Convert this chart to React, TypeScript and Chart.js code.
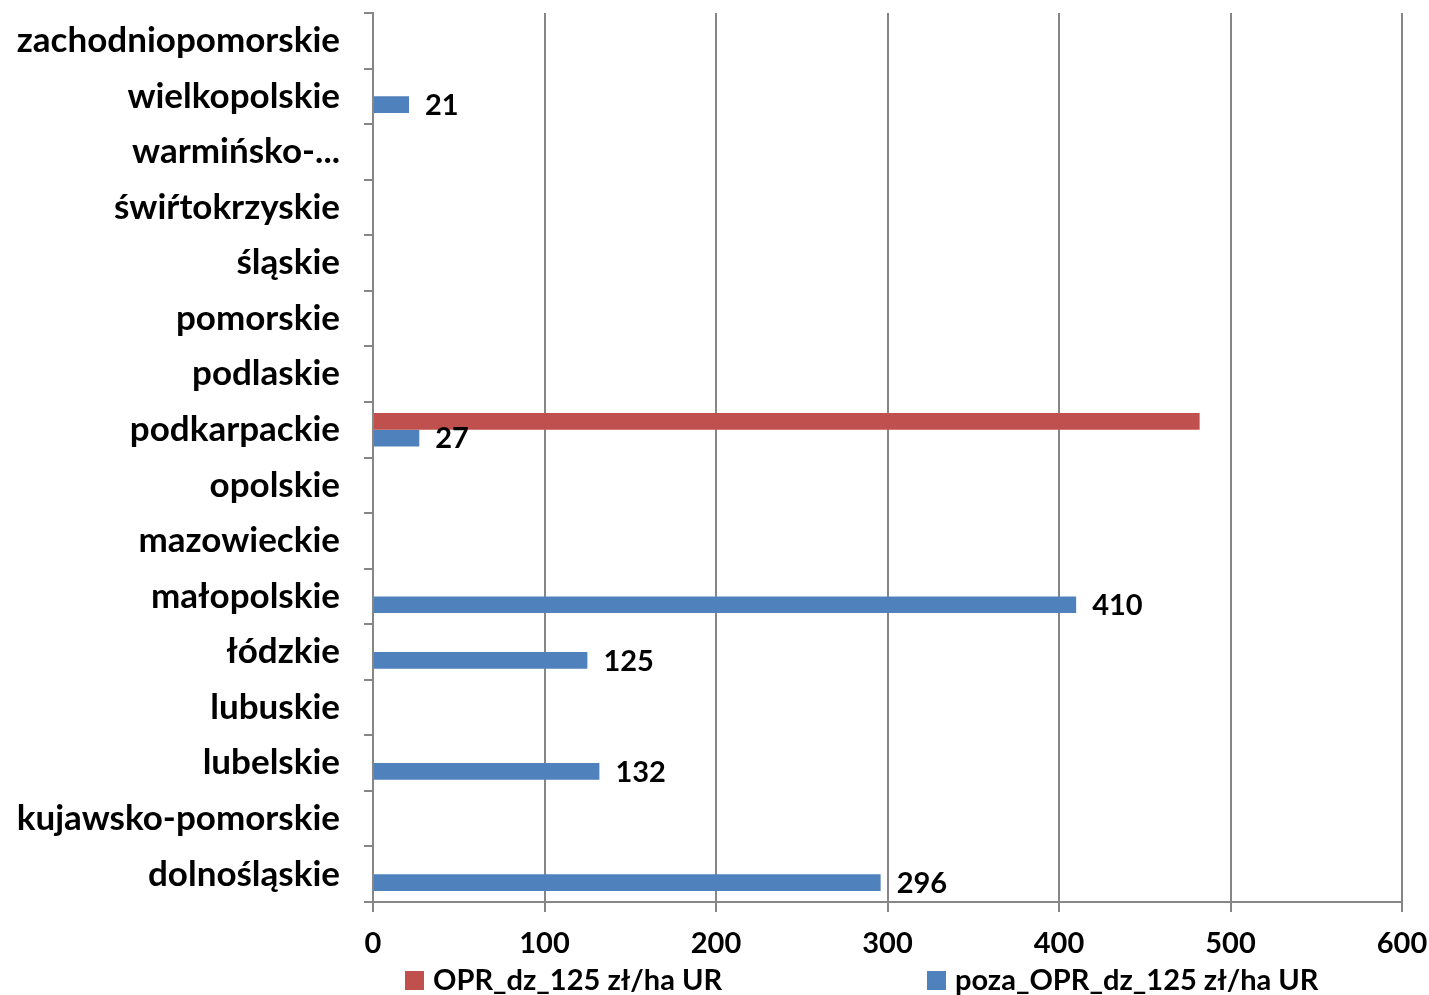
import React, { useEffect, useRef } from "react";
import { Chart, registerables } from "chart.js";

Chart.register(...registerables);

const categories = [
  "dolnośląskie",
  "kujawsko-pomorskie",
  "lubelskie",
  "lubuskie",
  "łódzkie",
  "małopolskie",
  "mazowieckie",
  "opolskie",
  "podkarpackie",
  "podlaskie",
  "pomorskie",
  "śląskie",
  "świŕtokrzyskie",
  "warmińsko-...",
  "wielkopolskie",
  "zachodniopomorskie",
];

const oprValues: (number | null)[] = [
  null, null, null, null, null, null, null, null, 482, null, null, null, null, null, null, null,
];

const pozaOprValues: (number | null)[] = [
  296, null, 132, null, 125, 410, null, null, 27, null, null, null, null, null, 21, null,
];

const seriesNames = ["OPR_dz_125 zł/ha UR", "poza_OPR_dz_125 zł/ha UR"];
const seriesColors = ["#C0504D", "#4F81BD"];
const xTicks = [0, 100, 200, 300, 400, 500, 600];

const FONT = "Lato, 'Open Sans', sans-serif";
const GRID = "#868686";

const labelPlugin = {
  id: "valueLabels",
  afterDatasetsDraw(chart: any) {
    const ctx = chart.ctx;
    const meta = chart.getDatasetMeta(1);
    ctx.save();
    ctx.font = `bold 29px ${FONT}`;
    ctx.fillStyle = "#000";
    ctx.textAlign = "left";
    ctx.textBaseline = "middle";
    meta.data.forEach((bar: any, i: number) => {
      const v = pozaOprValues[i];
      if (v == null) return;
      ctx.fillText(String(v), bar.x + 16, bar.y + 1);
    });
    ctx.restore();
  },
};

const legendPlugin = {
  id: "customLegend",
  afterDraw(chart: any) {
    const ctx = chart.ctx;
    const xs = [405, 927];
    const y = 980;
    ctx.save();
    ctx.font = `bold 29px ${FONT}`;
    ctx.textAlign = "left";
    ctx.textBaseline = "middle";
    seriesNames.forEach((name, i) => {
      ctx.fillStyle = seriesColors[i];
      ctx.fillRect(xs[i], y - 9, 19, 19);
      ctx.fillStyle = "#000";
      ctx.fillText(name, xs[i] + 28, y + 1);
    });
    ctx.restore();
  },
};

export default function App() {
  const ref = useRef<HTMLCanvasElement>(null);
  useEffect(() => {
    if (!ref.current) return;
    const chart = new Chart(ref.current, {
      type: "bar",
      data: {
        labels: categories,
        datasets: [
          {
            label: seriesNames[0],
            data: oprValues,
            backgroundColor: seriesColors[0],
            categoryPercentage: 0.6,
            barPercentage: 1,
          },
          {
            label: seriesNames[1],
            data: pozaOprValues,
            backgroundColor: seriesColors[1],
            categoryPercentage: 0.6,
            barPercentage: 1,
          },
        ],
      },
      options: {
        indexAxis: "y",
        animation: false,
        responsive: false,
        maintainAspectRatio: false,
        layout: { padding: { top: 13, right: 27, left: 0, bottom: 0 } },
        plugins: {
          legend: { display: false },
          tooltip: { enabled: false },
        },
        scales: {
          x: {
            min: 0,
            max: 600,
            afterBuildTicks: (scale: any) => {
              scale.ticks = xTicks.map((v) => ({ value: v }));
            },
            afterFit: (scale: any) => {
              scale.height = 93;
              scale.paddingLeft = 0;
              scale.paddingRight = 0;
            },
            grid: {
              color: GRID,
              lineWidth: 2,
              tickLength: 10,
              drawOnChartArea: true,
            },
            border: { color: GRID, width: 2 },
            ticks: {
              color: "#000",
              padding: 14,
              font: { family: FONT, size: 29, weight: "bold" },
            },
          },
          y: {
            reverse: true,
            afterFit: (scale: any) => {
              scale.width = 373;
              scale.paddingTop = 0;
              scale.paddingBottom = 0;
            },
            grid: {
              display: true,
              drawOnChartArea: false,
              color: GRID,
              lineWidth: 2,
              tickLength: 9,
              offset: true,
            },
            border: { color: GRID, width: 2 },
            ticks: {
              color: "#000",
              padding: 24,
              autoSkip: false,
              font: { family: FONT, size: 35, weight: "bold" },
            },
          },
        },
      },
      plugins: [labelPlugin, legendPlugin],
    });
    return () => chart.destroy();
  }, []);
  return (
    <div style={{ position: "fixed", left: 0, top: 0, width: 1429, height: 995, background: "#fff" }}>
      <canvas ref={ref} width={1429} height={995} style={{ width: 1429, height: 995 }} />
    </div>
  );
}
